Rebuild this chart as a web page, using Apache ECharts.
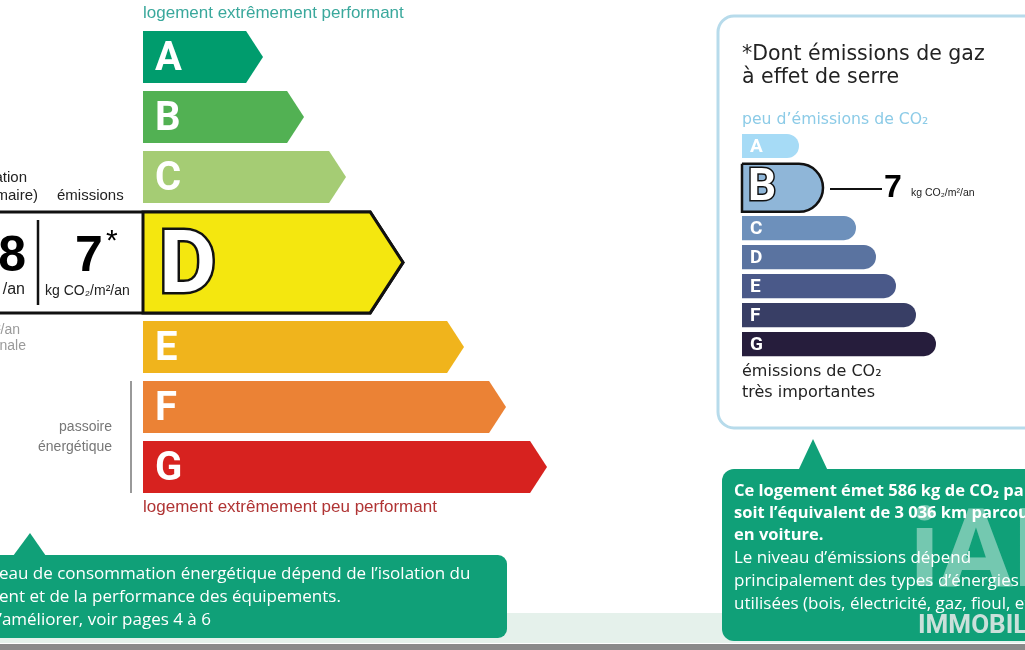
<!DOCTYPE html>
<html><head><meta charset="utf-8">
<script src="https://cdn.jsdelivr.net/npm/echarts@6/dist/echarts.min.js"></script>
<style>html,body{margin:0;padding:0;background:#fff;overflow:hidden}#c{width:1025px;height:650px}</style>
</head><body><div id="c"></div>
<script>
// ---- data ----
const energyClasses = ['A','B','C','D','E','F','G'];
const energyLengths = [120, 161, 203, 260, 321, 363, 404];
const energyColors = ['#009c6d','#52b153','#a5cc74','#f4e70f','#f0b41c','#eb8235','#d7221f'];
const energyClass = 'D';
const energyValueText = '8';
const co2Classes = ['A','B','C','D','E','F','G'];
const co2Lengths = [57, 81, 114, 134, 154, 174, 194];
const co2Colors = ['#a6dbf6','#8fb6d8','#6d90bb','#5a73a0','#4a5989','#383e65','#261d3c'];
const co2Class = 'B';
const co2Value = 7;
const co2Unit = 'kg CO₂/m²/an';
const co2Yearly = 586;
const carKm = '3 036';

// ---- layout helper (row start / height in axis units) ----
function rows(classes, lengths, selected, selSlot, barFrac, selFrac, selOff){
  let start = 0; const out = [];
  classes.forEach((c, i) => {
    const sel = c === selected;
    out.push([i, lengths[i], start + (sel ? selOff : 0), sel ? selFrac : barFrac]);
    start += sel ? selSlot : 1;
  });
  return out;
}
const energyRows = rows(energyClasses, energyLengths, energyClass, 1.833, 0.867, 1.683, 0.015);
const co2Rows = rows(co2Classes, co2Lengths, co2Class, 1.83, 0.83, 1.655, 0.03);

function energyItem(params, api){
  const i = api.value(0), len = api.value(1), y0 = api.value(2), h = api.value(3);
  const p0 = api.coord([0, y0]), p1 = api.coord([len, y0 + h]);
  const x0 = p0[0], top = p0[1], tip = p1[0], bot = p1[1];
  const mid = (top + bot) / 2, d = (bot - top) / 2 * 0.65;
  const sel = energyClasses[i] === energyClass;
  const ch = [];
  if (sel) {
    ch.push({type:'polygon', shape:{points:[[-10,top],[tip-d,top],[tip,mid],[tip-d,bot],[-10,bot]]},
      style:{fill:'#fff', stroke:'#111', lineWidth:3, lineJoin:'miter'}});
    ch.push({type:'polygon', shape:{points:[[x0,top],[tip-d,top],[tip,mid],[tip-d,bot],[x0,bot]]},
      style:{fill:energyColors[i], stroke:'#111', lineWidth:3, lineJoin:'miter'}});
    ch.push({type:'text', style:{x:x0+16, y:mid+8, text:energyClasses[i], fontFamily:'Roboto', fontWeight:'bold',
      fontSize:88, fill:'#fff', stroke:'#111', lineWidth:5, textVerticalAlign:'middle'}});
  } else {
    ch.push({type:'polygon', shape:{points:[[x0,top],[tip-d,top],[tip,mid],[tip-d,bot],[x0,bot]]},
      style:{fill:energyColors[i]}});
    ch.push({type:'text', style:{x:x0+12, y:mid+3, text:energyClasses[i], fontFamily:'Roboto', fontWeight:'bold',
      fontSize:40, fill:'#fff', textVerticalAlign:'middle'}});
  }
  return {type:'group', children:ch};
}

function co2Item(params, api){
  const i = api.value(0), len = api.value(1), y0 = api.value(2), h = api.value(3);
  const p0 = api.coord([0, y0]), p1 = api.coord([len, y0 + h]);
  const x0 = p0[0], top = p0[1], end = p1[0], bot = p1[1];
  const hh = bot - top, mid = (top + bot) / 2;
  const sel = co2Classes[i] === co2Class;
  const ch = [];
  ch.push({type:'rect', shape:{x:x0, y:top, width:end-x0, height:hh, r:[0,hh/2,hh/2,0]},
    style: sel ? {fill:co2Colors[i], stroke:'#111', lineWidth:2.5} : {fill:co2Colors[i]}});
  if (sel) {
    ch.push({type:'text', style:{x:x0+6, y:mid+1, text:co2Classes[i], fontFamily:'Roboto', fontWeight:'bold',
      fontSize:44, fill:'#fff', stroke:'#111', lineWidth:3, textVerticalAlign:'middle'}});
  } else {
    ch.push({type:'text', style:{x:x0+8, y:mid+1, text:co2Classes[i], fontFamily:'Roboto', fontWeight:'bold',
      fontSize:19, fill:'#fff', textVerticalAlign:'middle'}});
  }
  return {type:'group', children:ch};
}

const OS = '"Open Sans", sans-serif', LS = '"Liberation Sans", Arial, sans-serif', DV = '"DejaVu Sans", sans-serif';
function T(x, y, text, o){ return {type:'text', x:x, y:y, z:20, style:Object.assign({text:text, fontFamily:LS, fontSize:15, fill:'#222', textVerticalAlign:'middle'}, o||{})}; }

const greenBox = '#10a078';
const graphic = [
  // background bands
  {type:'rect', shape:{x:0, y:613, width:1025, height:30}, style:{fill:'#e5f1eb'}, z:-10},
  {type:'rect', shape:{x:0, y:644, width:1025, height:6}, style:{fill:'#8a8a8a'}, z:-10},
  // energy labels
  T(143, 13, 'logement extrêmement performant', {fill:'#3aa89c', fontSize:17}),
  T(143, 507, 'logement extrêmement peu performant', {fill:'#b03434', fontSize:17}),
  T(27, 178, 'consommation', {textAlign:'right', fontSize:15}),
  T(38, 196, '(énergie primaire)', {textAlign:'right', fontSize:15}),
  T(57, 196, 'émissions', {fontSize:15}),
  T(26, 257, energyValueText, {textAlign:'right', fontSize:50, fontWeight:'bold', fill:'#000'}),
  T(25, 290, '/an', {textAlign:'right', fontSize:16}),
  T(89, 257, String(co2Value), {textAlign:'center', fontSize:50, fontWeight:'bold', fill:'#000'}),
  T(106, 242, '*', {fontSize:30, fill:'#000'}),
  T(45, 291, co2Unit, {fontSize:14}),
  {type:'line', z:20, shape:{x1:38, y1:220, x2:38, y2:305}, style:{stroke:'#111', lineWidth:2.5}},
  T(20, 330, 'kWh/m²/an', {textAlign:'right', fontSize:14, fill:'#9a9a9a'}),
  T(26, 346, 'd\u2019énergie finale', {textAlign:'right', fontSize:14, fill:'#9a9a9a'}),
  T(112, 427, 'passoire', {textAlign:'right', fontSize:14, fill:'#777'}),
  T(112, 447, 'énergétique', {textAlign:'right', fontSize:14, fill:'#777'}),
  {type:'line', shape:{x1:131, y1:381, x2:131, y2:493}, style:{stroke:'#999', lineWidth:2}},
  // left callout
  {type:'polygon', shape:{points:[[13,556],[30,533],[46,556]]}, style:{fill:greenBox}},
  {type:'rect', shape:{x:-20, y:555, width:527, height:83, r:9}, style:{fill:greenBox}},
  T(-1, 574, 'eau de consommation énergétique dépend de l\u2019isolation du', {fontFamily:OS, fontSize:17, fill:'#fff'}),
  T(-1, 597, 'ent et de la performance des équipements.', {fontFamily:OS, fontSize:17, fill:'#fff'}),
  T(-1, 620, '\u2019améliorer, voir pages 4 à 6', {fontFamily:OS, fontSize:17, fill:'#fff'}),
  // right panel
  {type:'rect', shape:{x:718, y:16, width:330, height:412, r:16}, style:{fill:'#fff', stroke:'#b7dbeb', lineWidth:3}, z:-5},
  T(742, 55, '*Dont émissions de gaz', {fontFamily:DV, fontSize:20.5, fill:'#222'}),
  T(742, 78, 'à effet de serre', {fontFamily:DV, fontSize:20.5, fill:'#222'}),
  T(742, 120, 'peu d\u2019émissions de CO₂', {fontFamily:DV, fontSize:15.7, fill:'#8ccbe7'}),
  T(742, 372, 'émissions de CO₂', {fontFamily:DV, fontSize:16, fill:'#222'}),
  T(742, 393, 'très importantes', {fontFamily:DV, fontSize:16, fill:'#222'}),
  {type:'line', shape:{x1:830, y1:189, x2:882, y2:189}, style:{stroke:'#111', lineWidth:2}},
  T(884, 188, String(co2Value), {fontSize:32, fontWeight:'bold', fill:'#000'}),
  T(911, 193, co2Unit, {fontSize:10.5, fill:'#222'}),
  // right callout
  {type:'polygon', shape:{points:[[798,471],[813,439],[828,471]]}, style:{fill:greenBox}},
  {type:'rect', shape:{x:722, y:469, width:340, height:172, r:12}, style:{fill:greenBox}},
  T(734, 491, 'Ce logement émet ' + co2Yearly + ' kg de CO₂ par an,', {fontFamily:OS, fontSize:16.5, fontWeight:'bold', fill:'#fff'}),
  T(734, 513, 'soit l\u2019équivalent de ' + carKm + ' km parcourus', {fontFamily:OS, fontSize:16.5, fontWeight:'bold', fill:'#fff'}),
  T(734, 535, 'en voiture.', {fontFamily:OS, fontSize:16.5, fontWeight:'bold', fill:'#fff'}),
  T(734, 558, 'Le niveau d\u2019émissions dépend', {fontFamily:OS, fontSize:17, fill:'#fff'}),
  T(734, 581, 'principalement des types d\u2019énergies', {fontFamily:OS, fontSize:17, fill:'#fff'}),
  T(734, 604, 'utilisées (bois, électricité, gaz, fioul, etc.)', {fontFamily:OS, fontSize:17, fill:'#fff'}),
  // watermark
  T(910, 558, 'iAD', {fontFamily:'Roboto', fontSize:110, fontWeight:'bold', fill:'rgba(255,255,255,0.42)'}),
  T(918, 626, 'IMMOBILIER', {fontFamily:'Roboto', fontSize:26, fontWeight:'bold', fill:'rgba(235,235,235,0.85)'})
];

const chart = echarts.init(document.getElementById('c'), null, {renderer:'canvas'});
chart.setOption({
  animation:false,
  backgroundColor:'#fff',
  grid:[
    {left:143, top:31, width:882, height:600},
    {left:742, top:134, width:283, height:290}
  ],
  xAxis:[
    {type:'value', gridIndex:0, min:0, max:882, show:false},
    {type:'value', gridIndex:1, min:0, max:283, show:false}
  ],
  yAxis:[
    {type:'value', gridIndex:0, min:0, max:10, inverse:true, show:false},
    {type:'value', gridIndex:1, min:0, max:10, inverse:true, show:false}
  ],
  graphic:graphic,
  series:[
    {type:'custom', name:'énergie', xAxisIndex:0, yAxisIndex:0, renderItem:energyItem, data:energyRows, encode:{x:1, y:2}, z:3},
    {type:'custom', name:'CO2', xAxisIndex:1, yAxisIndex:1, renderItem:co2Item, data:co2Rows, encode:{x:1, y:2}, z:3}
  ]
});
</script>
</body></html>
